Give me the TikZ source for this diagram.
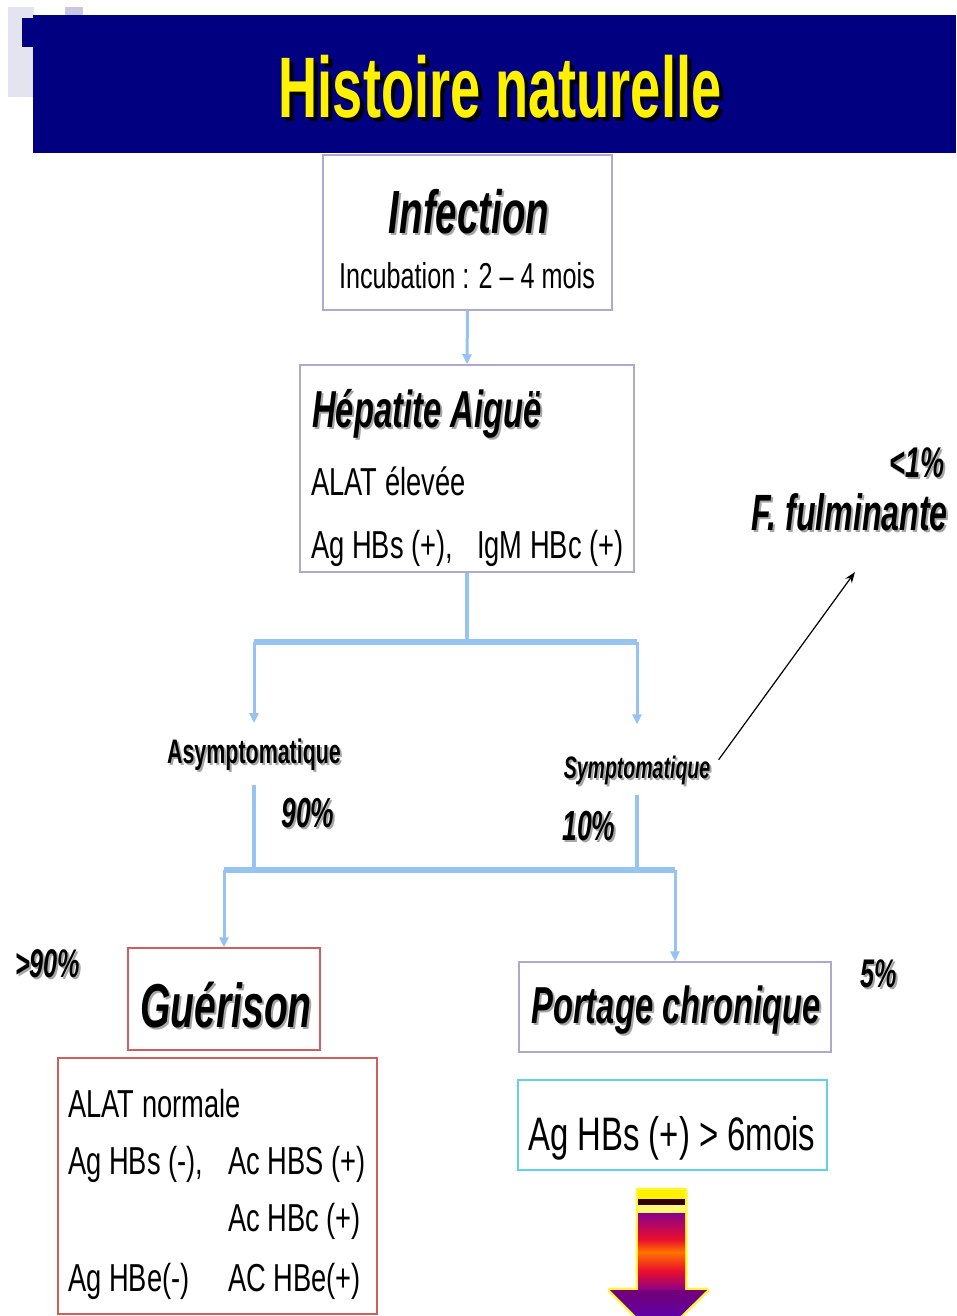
\documentclass[tikz,border=0pt]{standalone}
\usepackage{fontspec}
\newfontfamily\bodyfont[FakeStretch=0.7]{Liberation Sans}
\newfontfamily\headfont[FakeStretch=0.63]{Liberation Sans}
\usetikzlibrary{arrows.meta}

\definecolor{navy}{RGB}{0,0,128}
\definecolor{lavlight}{RGB}{228,228,240}
\definecolor{lavdark}{RGB}{200,200,225}
\definecolor{linkblue}{RGB}{150,195,240}
\definecolor{boxgray}{RGB}{175,170,205}
\definecolor{boxred}{RGB}{205,95,95}
\definecolor{boxcyan}{RGB}{95,210,230}
\definecolor{arrpurple}{RGB}{135,0,140}
\definecolor{arrred}{RGB}{235,15,45}
\definecolor{arrorange}{RGB}{255,115,0}
\definecolor{arrblue}{RGB}{85,0,205}
\pgfdeclareverticalshading{shaftfill}{100bp}{color(0bp)=(arrpurple); color(25bp)=(arrpurple); color(38bp)=(arrred); color(50bp)=(arrorange); color(58bp)=(arrred); color(75bp)=(arrpurple); color(100bp)=(arrpurple)}

\newcommand\headit[1]{\headfont\bfseries\itshape\fontsize{#1}{#1}\selectfont}
\newcommand\headbf[1]{\headfont\bfseries\fontsize{#1}{#1}\selectfont}
\newcommand\bodytxt[1]{\bodyfont\fontsize{#1}{#1}\selectfont}
% soft grey shadow behind the bold words
\newcommand\shd[1]{\leavevmode\rlap{\kern2pt\raisebox{-2pt}{\textcolor{black!35}{#1}}}#1}
\newcommand\ttlshd[1]{\leavevmode\rlap{\kern4pt\raisebox{-4pt}{\textcolor{black}{#1}}}#1}

\begin{document}
\begin{tikzpicture}[x=1pt,y=-1pt,>={Stealth[length=11pt,width=8pt]},
    box/.style={draw=#1,line width=1.5pt,inner sep=0pt},
    txt/.style={inner sep=0pt},
    conn/.style={draw=linkblue,line width=3pt,->,>={Triangle[length=10pt,width=9pt]}},
    trunk/.style={draw=linkblue,line width=4pt},
    bar/.style={draw=linkblue,line width=6pt},
    thinarr/.style={draw=black,line width=1.2pt,->}]
	\useasboundingbox (0,0) rectangle (956,1316);
	\clip (0,0) rectangle (956,1316);
	\fill[white] (0,0) rectangle (956,1316);
	% banner
	\fill[lavlight] (8,7) rectangle (34,97);
	\fill[lavdark] (65,7) rectangle (83,16);
	\fill[navy] (22,18) rectangle (34,47);
	\fill[navy] (33,15) rectangle (956,153);
	\node[txt,anchor=base,text=yellow,font=\headbf{86}] (title) at (500,118) {\ttlshd{Histoire naturelle}};

	% boxes
	\node[box=boxgray,minimum width=289pt,minimum height=155pt] (infect) at (467.5,232.5) {};
	\node[box=boxgray,minimum width=334pt,minimum height=207pt] (hep) at (467,468.5) {};
	\node[box=boxred,minimum width=192pt,minimum height=102pt] (guer) at (224,999) {};
	\node[box=boxred,minimum width=319pt,minimum height=256pt] (guerdet) at (217.5,1186) {};
	\node[box=boxgray,minimum width=312pt,minimum height=90pt] (port) at (675,1007) {};
	\node[box=boxcyan,minimum width=309pt,minimum height=90pt] (chron) at (672.5,1125) {};

	% texts
	\node[txt,anchor=base,font=\headit{61}] (infecttxt) at (469,233) {\shd{Infection}};
	\node[txt,anchor=base,font=\bodytxt{36}] (incub) at (467,288) {Incubation : 2 – 4 mois};
	\node[txt,anchor=base west,font=\headit{52}] (heptxt) at (312,427) {\shd{Hépatite Aiguë}};
	\node[txt,anchor=base west,font=\bodytxt{39}] (alat) at (311,495) {ALAT élevée};
	\node[txt,anchor=base west,font=\bodytxt{39}] (hbs) at (311,558) {Ag HBs (+),\hspace{24pt}IgM HBc (+)};
	\node[txt,anchor=base,font=\headbf{34}] (asym) at (254,763) {\shd{Asymptomatique}};
	\node[txt,anchor=base,font=\headit{42}] (pasym) at (308,827) {\shd{90\%}};
	\node[txt,anchor=base,font=\headit{31}] (sym) at (637,778) {\shd{Symptomatique}};
	\node[txt,anchor=base,font=\headit{42}] (psym) at (589,840) {\shd{10\%}};
	\node[txt,anchor=base east,font=\headit{43}] (pfulm) at (945,477) {\shd{<1\%}};
	\node[txt,anchor=base east,font=\headit{51}] (fulm) at (948,530) {\shd{F. fulminante}};
	\node[txt,anchor=base west,font=\headit{40}] (pguer) at (15,977) {\shd{>90\%}};
	\node[txt,anchor=base west,font=\headit{40}] (pport) at (860,987) {\shd{5\%}};
	\node[txt,anchor=base,font=\headit{62}] (guertxt) at (226,1027) {\shd{Guérison}};
	\node[txt,anchor=base,font=\headit{52}] (porttxt) at (676,1023) {\shd{Portage chronique}};
	\node[txt,anchor=base west,font=\bodyfont\fontsize{39}{57}\selectfont] (guerrows) at (68,1117) {%
		\begin{tabular}[t]{@{}p{160pt}@{}l@{}}
		\multicolumn{2}{@{}l@{}}{ALAT normale}\\
		Ag HBs (-), & Ac HBS (+)\\
		 & Ac HBc (+)\\[3pt]
		Ag HBe(-) & AC HBe(+)
		\end{tabular}};
	\node[txt,anchor=base west,font=\bodytxt{47}] (chrontxt) at (528,1150) {Ag HBs (+) > 6mois};

	% connectors
	\coordinate (fork) at (467,642);
	\coordinate (lft) at (254,642);
	\coordinate (rgt) at (637,642);
	\coordinate (fork2) at (450,870);
	\coordinate (fulmtip) at (855,572);
	\draw[conn] (infect.south) -- (hep.north);
	\draw[trunk] (hep.south) -- (fork);
	\draw[bar] (lft) -- (rgt);
	\draw[conn,shorten >=15pt] (lft) -- (asym.north);
	\draw[conn,shorten >=31pt] (rgt) -- (sym.north);
	\draw[trunk,shorten <=13pt] (asym.south) -- (asym.south |- fork2);
	\draw[trunk,shorten <=8pt] (sym.south) -- (sym.south |- fork2);
	\draw[bar] (guer.north |- fork2) -- (port.north |- fork2);
	\draw[conn] (guer.north |- fork2) -- (guer.north);
	\draw[conn] (port.north |- fork2) -- (port.north);
	\draw[thinarr,shorten <=14pt] (sym.east) -- (fulmtip);

	% big shaded arrow
	\draw[yellow!75,line width=5pt,line join=round] (638,1190) -- (685,1190) -- (685,1290) -- (707,1290) -- (658,1338) -- (610,1290) -- (638,1290) -- cycle;
	\fill[yellow] (638,1190) rectangle (685,1199);
	\fill[black!80!red] (638,1199) rectangle (685,1205);
	\fill[yellow!55] (638,1205) rectangle (685,1213);
	\shade[shading=shaftfill] (638,1213) rectangle (685,1291);
	\shade[top color=arrpurple!85!black,bottom color=arrblue] (610,1290) -- (707,1290) -- (658,1338) -- cycle;
\end{tikzpicture}
\end{document}
